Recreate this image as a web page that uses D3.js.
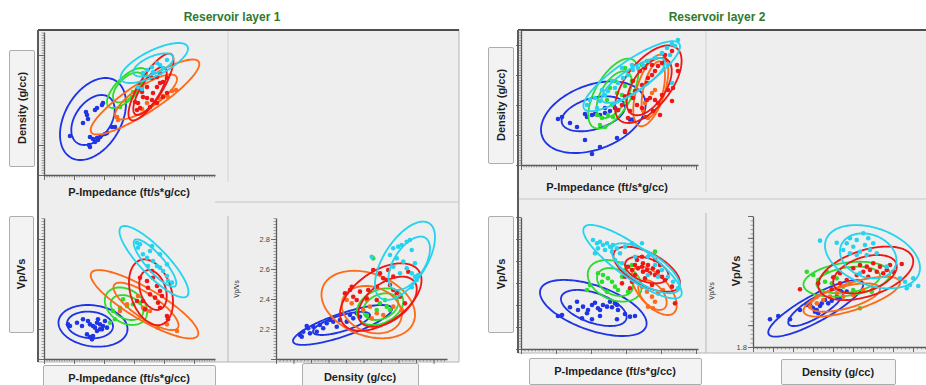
<!DOCTYPE html>
<html>
<head>
<meta charset="utf-8">
<script src="https://cdn.jsdelivr.net/npm/d3@7"></script>
<style>
  body { margin: 0; background: #fff; }
  svg { display: block; font-family: "Liberation Sans", Arial, sans-serif; }
</style>
</head>
<body>
<svg id="chart" width="926" height="385"></svg>
<script>
// facies classes, drawn in this order
const classOrder = ['blue', 'green', 'orange', 'red', 'cyan'];
const classColors = { blue: '#1e34e6', green: '#2cdc2c', orange: '#ff6a18', red: '#f01616', cyan: '#26d3ef' };

// axis domains
const ipDomain1 = [14000, 31100];
const rhoDomain1 = [1.9, 2.615];
const vpvsDomain1 = [2.0, 2.94];
const rhoDomain1b = [1.9, 2.584];
const ipDomain2 = [15000, 32700];
const rhoDomain2 = [1.95, 2.625];
const vpvsDomain2 = [1.8, 3.0];
const rhoDomain2b = [1.9, 2.648];
const vpvsLabels1 = [2.2, 2.4, 2.6, 2.8];
const vpvsLabels2 = [1.8];

// ellipses: [class, centreX, centreY, halfWidth, halfHeight, correlation]

// ---- Reservoir layer 1 : P-Impedance vs Density
const l1ImpDen = {
  blue: [[16600,2.095],[17900,2.16],[18300,2.2],[18400,2.18],[19100,2.225],[19300,2.235],[19800,2.25],[19900,2.26],[18600,2.09],[19300,2.085],[19100,2.065],[19400,2.075],[18500,2.05],[18600,2.04],[20300,2.11],[20800,2.14],[21100,2.14],[19600,2.09],[18900,2.08],[20100,2.105],[18200,2.215]],
  green: [[22900,2.315],[23300,2.33],[23600,2.36],[22800,2.29],[21600,2.24],[23800,2.34]],
  orange: [[21300,2.19],[21400,2.175],[23800,2.23],[26800,2.32],[27200,2.325],[25900,2.295],[25600,2.28],[26400,2.29],[24300,2.26]],
  red: [[23300,2.225],[23600,2.235],[23100,2.265],[23800,2.315],[23900,2.29],[24300,2.285],[24800,2.275],[24900,2.31],[25300,2.34],[25600,2.36],[25900,2.365],[26300,2.385],[25300,2.39],[25600,2.41],[24800,2.385],[24300,2.34],[23400,2.26],[24600,2.24],[25300,2.26],[25900,2.29],[26300,2.31]],
  cyan: [[24300,2.425],[24800,2.44],[25300,2.46],[25600,2.45],[26300,2.475],[23900,2.41],[23400,2.34],[24900,2.415],[25900,2.435],[23800,2.33]]
};
const l1ImpDenEllipses = [
  ['blue', 18900, 2.18, 3300, 0.205, 0.38], ['blue', 18900, 2.175, 2170, 0.125, 0.4],
  ['green', 22300, 2.335, 2000, 0.1, 0.7], ['green', 22400, 2.338, 1500, 0.075, 0.6],
  ['orange', 24100, 2.29, 5430, 0.1875, 0.88], ['orange', 24200, 2.29, 3100, 0.1125, 0.8],
  ['red', 24700, 2.34, 2250, 0.167, 0.8], ['red', 24600, 2.32, 1670, 0.12, 0.75],
  ['cyan', 25030, 2.46, 3370, 0.1, 0.72], ['cyan', 24930, 2.45, 2000, 0.058, 0.6]
];

// ---- Reservoir layer 1 : P-Impedance vs Vp/Vs
const l1ImpVpvs = {
  blue: [[16400,2.231],[16600,2.22],[17300,2.242],[17900,2.265],[18400,2.253],[18600,2.231],[18900,2.22],[19100,2.209],[19300,2.242],[19400,2.265],[19600,2.231],[19800,2.198],[18300,2.164],[18600,2.147],[18800,2.131],[18900,2.153],[19900,2.22],[20300,2.209],[17800,2.22],[19300,2.187],[19600,2.198],[20100,2.253]],
  green: [[20900,2.32],[21600,2.342],[22300,2.353],[22900,2.365],[23600,2.375],[21900,2.398],[21100,2.265],[20600,2.242]],
  orange: [[23900,2.342],[24600,2.32],[25400,2.209],[26300,2.231],[27300,2.187],[22300,2.365],[21600,2.32],[23400,2.42]],
  red: [[23600,2.542],[24300,2.52],[24800,2.587],[24900,2.542],[25300,2.487],[25600,2.453],[25100,2.409],[25400,2.375],[25600,2.342],[24600,2.431],[23900,2.387],[23300,2.387],[26300,2.287],[26400,2.265],[25800,2.42],[24400,2.475],[24100,2.331]],
  cyan: [[23300,2.775],[23400,2.742],[23900,2.698],[24300,2.675],[24600,2.72],[24900,2.653],[25300,2.62],[25600,2.609],[25900,2.587],[26300,2.553],[26400,2.52],[26800,2.509],[23600,2.765],[24800,2.753],[25600,2.698],[26300,2.631],[24400,2.62]]
};
const l1ImpVpvsEllipses = [
  ['blue', 18900, 2.221, 3450, 0.139, -0.15], ['blue', 18600, 2.227, 2300, 0.089, -0.1],
  ['green', 22200, 2.352, 2120, 0.125, -0.3], ['green', 22300, 2.343, 1630, 0.083, -0.3],
  ['orange', 24050, 2.365, 5380, 0.228, -0.85], ['orange', 24200, 2.351, 3250, 0.158, -0.8],
  ['red', 24700, 2.445, 2200, 0.219, -0.3], ['red', 24900, 2.46, 1370, 0.133, -0.3],
  ['cyan', 25000, 2.649, 3450, 0.238, -0.85], ['cyan', 25100, 2.64, 2130, 0.158, -0.85]
];

// ---- Reservoir layer 1 : Density vs Vp/Vs
const l1DenVpvs = {
  blue: [[1.996,2.16],[2.009,2.182],[2.029,2.205],[2.049,2.215],[2.076,2.227],[2.103,2.238],[2.129,2.249],[2.156,2.26],[2.183,2.249],[2.209,2.271],[2.236,2.282],[2.036,2.171],[2.063,2.182],[2.089,2.205],[2.143,2.215],[2.196,2.293],[2.223,2.305],[2.003,2.149],[2.023,2.22],[2.116,2.26]],
  green: [[2.289,2.671],[2.316,2.371],[2.343,2.349],[2.303,2.327],[2.356,2.327],[2.263,2.293],[2.336,2.393]],
  orange: [[2.183,2.393],[2.249,2.327],[2.276,2.349],[2.303,2.305],[2.329,2.293],[2.283,2.271],[2.369,2.349],[2.403,2.327],[2.203,2.371],[2.263,2.393]],
  red: [[2.176,2.438],[2.196,2.46],[2.209,2.415],[2.223,2.393],[2.236,2.449],[2.269,2.46],[2.303,2.482],[2.329,2.538],[2.343,2.527],[2.356,2.493],[2.369,2.46],[2.383,2.438],[2.289,2.593],[2.316,2.571],[2.349,2.593],[2.369,2.549],[2.396,2.415],[2.416,2.371],[2.429,2.582],[2.263,2.405],[2.303,2.393],[2.203,2.482]],
  cyan: [[2.283,2.682],[2.356,2.693],[2.369,2.738],[2.389,2.749],[2.403,2.76],[2.423,2.782],[2.436,2.793],[2.443,2.727],[2.409,2.649],[2.423,2.605],[2.443,2.571],[2.456,2.549],[2.469,2.56],[2.463,2.527],[2.443,2.478],[2.383,2.671],[2.369,2.615],[2.396,2.571],[2.456,2.638]]
};
const l1DenVpvsEllipses = [
  ['blue', 2.166, 2.227, 0.198, 0.133, 0.8], ['blue', 2.162, 2.237, 0.114, 0.077, 0.7],
  ['green', 2.316, 2.349, 0.093, 0.122, 0.3], ['green', 2.319, 2.349, 0.07, 0.089, 0.3],
  ['orange', 2.269, 2.363, 0.187, 0.225, -0.3], ['orange', 2.283, 2.329, 0.12, 0.158, -0.2],
  ['red', 2.319, 2.413, 0.163, 0.225, 0.5], ['red', 2.346, 2.382, 0.117, 0.167, 0.5],
  ['cyan', 2.416, 2.655, 0.12, 0.261, 0.6], ['cyan', 2.433, 2.638, 0.083, 0.178, 0.55]
];

// ---- Reservoir layer 2 : P-Impedance vs Density
const l2ImpDen = {
  blue: [[18700,2.18],[19100,2.19],[19900,2.16],[20600,2.14],[21400,2.205],[21600,2.19],[22100,2.2],[22400,2.205],[22900,2.2],[23400,2.21],[23900,2.22],[24400,2.235],[24700,2.225],[21400,2.075],[22900,2.04],[22100,2.005],[24600,2.085],[25400,2.115],[25900,2.177],[26200,2.177],[27400,2.19],[23400,2.235]],
  green: [[22600,2.2],[23100,2.185],[23700,2.2],[24200,2.19],[22900,2.15],[23400,2.14],[24100,2.25],[25100,2.3],[24600,2.31],[25400,2.345],[26100,2.37],[24400,2.37],[23900,2.335],[23600,2.275],[25400,2.435],[27100,2.45],[27600,2.47]],
  orange: [[27200,2.225],[27700,2.185],[28400,2.325],[28100,2.31],[27400,2.26]],
  red: [[25400,2.294],[25900,2.3],[26400,2.32],[27100,2.35],[27600,2.36],[27700,2.385],[28100,2.4],[28400,2.42],[28700,2.445],[29100,2.46],[29400,2.475],[27600,2.275],[27900,2.285],[28400,2.275],[28700,2.26],[29100,2.3],[29700,2.325],[30200,2.335],[30700,2.42],[30600,2.45],[30100,2.52],[29400,2.5],[25900,2.22],[25700,2.185],[25400,2.12],[24700,2.225],[26600,2.25],[27100,2.235],[28200,2.22],[28900,2.2],[26900,2.42],[27400,2.435],[28100,2.45],[26200,2.37],[25100,2.25],[26200,2.285],[30100,2.27]],
  cyan: [[21600,2.25],[21900,2.275],[22400,2.285],[22900,2.27],[23400,2.3],[23700,2.32],[24400,2.335],[24700,2.36],[25200,2.385],[25700,2.4],[26200,2.425],[26700,2.435],[27200,2.45],[27700,2.47],[28400,2.485],[29100,2.51],[29600,2.535],[30100,2.555],[30700,2.575],[30400,2.545],[29900,2.5],[22600,2.235],[23100,2.325],[24100,2.37],[25100,2.435],[26100,2.45],[29700,2.45],[30100,2.36]]
};
const l2ImpDenEllipses = [
  ['blue', 22230, 2.189, 5230, 0.179, 0.35], ['blue', 22230, 2.206, 3170, 0.0875, 0.4],
  ['green', 24230, 2.307, 2500, 0.175, 0.6], ['green', 24320, 2.302, 1750, 0.117, 0.55],
  ['orange', 27980, 2.3225, 1750, 0.179, 0.55], ['orange', 28230, 2.3265, 1170, 0.1415, 0.5],
  ['red', 27730, 2.354, 3330, 0.194, 0.6], ['red', 27820, 2.342, 2250, 0.1435, 0.55],
  ['cyan', 26070, 2.394, 4830, 0.175, 0.85], ['cyan', 26230, 2.373, 3170, 0.1125, 0.8]
];

// ---- Reservoir layer 2 : P-Impedance vs Vp/Vs
const l2ImpVpvs = {
  blue: [[18700,2.1],[19100,2.109],[19900,2.179],[20600,2.23],[20700,2.155],[21200,2.185],[21600,2.125],[21700,2.155],[22100,2.2],[22400,2.221],[22700,2.17],[22900,2.155],[23200,2.2],[23600,2.185],[23900,2.23],[24100,2.179],[24400,2.215],[24600,2.2],[22100,2.07],[22900,2.1],[24600,2.07],[25400,2.118],[25900,2.094],[26400,2.1],[24700,2.155],[21100,2.079]],
  green: [[21600,2.336],[21900,2.382],[22700,2.488],[23200,2.473],[23700,2.443],[24100,2.412],[24400,2.367],[24700,2.336],[23600,2.321],[25100,2.457],[25400,2.518],[26100,2.564],[28400,2.685],[23100,2.412],[25700,2.321]],
  orange: [[27100,2.367],[27600,2.321],[28100,2.276],[28400,2.23],[27700,2.185],[28700,2.306],[29200,2.336],[28200,2.17]],
  red: [[25700,2.548],[26100,2.518],[26400,2.564],[26700,2.533],[27100,2.548],[27200,2.503],[27600,2.518],[27700,2.564],[27900,2.488],[28200,2.533],[28400,2.473],[28700,2.503],[29100,2.457],[29400,2.427],[26600,2.609],[27100,2.639],[27700,2.639],[28400,2.609],[25400,2.457],[25100,2.397],[26100,2.412],[27400,2.443],[26400,2.473],[30100,2.367],[30400,2.215],[28100,2.382],[25900,2.352],[27200,2.579],[28900,2.564]],
  cyan: [[22200,2.791],[22600,2.761],[22900,2.775],[23200,2.745],[23600,2.761],[23900,2.73],[24200,2.745],[24600,2.715],[22700,2.715],[23400,2.7],[24100,2.685],[24900,2.67],[25400,2.73],[26100,2.761],[27100,2.761],[27700,2.639],[28400,2.564],[29100,2.518],[29700,2.457],[30200,2.412],[30700,2.352],[24400,2.609],[25100,2.579],[26400,2.639],[28700,2.457],[27700,2.473],[22400,2.67]]
};
const l2ImpVpvsEllipses = [
  ['blue', 22230, 2.173, 5330, 0.255, -0.55], ['blue', 22280, 2.173, 3280, 0.164, -0.5],
  ['green', 24370, 2.42, 2700, 0.189, -0.3], ['green', 24400, 2.409, 1800, 0.127, -0.3],
  ['orange', 28320, 2.329, 2250, 0.22, -0.6], ['orange', 28150, 2.291, 1420, 0.136, -0.5],
  ['red', 27570, 2.525, 3330, 0.205, -0.6], ['red', 27570, 2.518, 2170, 0.121, -0.4],
  ['cyan', 26150, 2.594, 4920, 0.334, -0.85], ['cyan', 27480, 2.534, 3420, 0.227, -0.7]
];

// ---- Reservoir layer 2 : Density vs Vp/Vs
const l2DenVpvs = {
  blue: [[1.968,2.054],[2.001,2.084],[2.048,2.054],[2.088,2.139],[2.115,2.185],[2.135,2.164],[2.148,2.123],[2.155,2.139],[2.168,2.176],[2.175,2.2],[2.188,2.231],[2.201,2.2],[2.215,2.224],[2.235,2.261],[2.248,2.246],[2.275,2.307],[2.141,2.154],[2.161,2.109],[2.128,2.194]],
  green: [[2.115,2.49],[2.141,2.46],[2.161,2.414],[2.188,2.398],[2.215,2.383],[2.235,2.429],[2.261,2.352],[2.288,2.383],[2.328,2.154],[2.375,2.307],[2.301,2.322],[2.195,2.49]],
  orange: [[2.128,2.169],[2.155,2.2],[2.181,2.231],[2.208,2.261],[2.235,2.292],[2.261,2.261],[2.301,2.276],[2.341,2.322],[2.381,2.338],[2.155,2.261]],
  red: [[2.088,2.329],[2.161,2.383],[2.221,2.438],[2.248,2.475],[2.275,2.414],[2.301,2.521],[2.328,2.551],[2.341,2.49],[2.355,2.536],[2.368,2.505],[2.381,2.567],[2.395,2.49],[2.408,2.536],[2.421,2.475],[2.435,2.505],[2.448,2.551],[2.461,2.49],[2.495,2.56],[2.361,2.444],[2.315,2.46],[2.215,2.329],[2.248,2.383]],
  cyan: [[2.168,2.774],[2.235,2.755],[2.261,2.689],[2.275,2.75],[2.288,2.796],[2.301,2.719],[2.315,2.78],[2.328,2.673],[2.341,2.842],[2.348,2.734],[2.361,2.796],[2.368,2.689],[2.381,2.75],[2.288,2.658],[2.315,2.643],[2.355,2.643],[2.395,2.658],[2.488,2.429],[2.508,2.398],[2.528,2.368],[2.541,2.429],[2.561,2.359],[2.515,2.338],[2.435,2.536],[2.328,2.475]]
};
const l2DenVpvsEllipses = [
  ['blue', 2.151, 2.154, 0.19, 0.259, 0.85], ['blue', 2.151, 2.16, 0.11, 0.168, 0.8],
  ['green', 2.275, 2.421, 0.173, 0.16, 0.3], ['green', 2.281, 2.414, 0.127, 0.122, 0.3],
  ['orange', 2.295, 2.261, 0.193, 0.183, 0.7], ['orange', 2.268, 2.253, 0.14, 0.13, 0.6],
  ['red', 2.351, 2.475, 0.19, 0.245, 0.45], ['red', 2.348, 2.467, 0.127, 0.176, 0.4],
  ['cyan', 2.378, 2.627, 0.19, 0.29, -0.35], ['cyan', 2.361, 2.635, 0.113, 0.206, -0.2]
];

// ---------------------------------------------------------------
const svg = d3.select('#chart');
const FONT_BOLD = 'bold';

function stepTicks(domain, step) {
  const n = Math.floor((domain[1] - domain[0]) / step + 1e-6);
  return d3.range(n + 1).map(i => domain[0] + i * step);
}

function drawAxis(g, scale, orient, spec) {
  const make = orient === 'left' ? d3.axisLeft : d3.axisBottom;
  const minor = g.append('g').call(make(scale)
    .tickValues(stepTicks(scale.domain(), spec.minor))
    .tickSize(2.5).tickSizeOuter(0).tickFormat(''));
  const labels = spec.labels || [];
  const major = g.append('g').call(make(scale)
    .tickValues(stepTicks(scale.domain(), spec.major))
    .tickSize(5).tickSizeOuter(0).tickPadding(1)
    .tickFormat(d => labels.some(v => Math.abs(v - d) < 1e-6) ? d3.format('.1f')(d) : ''));
  minor.selectAll('.tick line').attr('stroke', '#8a8a8a').attr('stroke-width', 0.8);
  major.selectAll('.tick line').attr('stroke', '#5e5e5e').attr('stroke-width', 0.9);
  major.select('.domain').attr('stroke', '#5a5a5a').attr('stroke-width', 1.3);
  major.selectAll('.tick text').attr('fill', '#444').attr('font-size', 7.5)
    .attr('font-family', '"Liberation Sans", Arial, sans-serif');
  minor.select('.domain').remove();
}

function ellipsePath(e, x, y) {
  const [, cx, cy, hx, hy, r] = e;
  const s = Math.sqrt(1 - r * r);
  const pts = d3.range(0, 2 * Math.PI, Math.PI / 72).map(t => [
    x(cx + hx * Math.cos(t)),
    y(cy + hy * (r * Math.cos(t) + s * Math.sin(t)))
  ]);
  return d3.line().curve(d3.curveLinearClosed)(pts);
}

function drawCrossplot(p) {
  const x = d3.scaleLinear().domain(p.xDomain).range(p.xRange);
  const y = d3.scaleLinear().domain(p.yDomain).range(p.yRange);
  const g = svg.append('g');

  drawAxis(g.append('g').attr('transform', `translate(0,${p.yRange[0]})`), x, 'bottom', p.xTicks);
  drawAxis(g.append('g').attr('transform', `translate(${p.xRange[0]},0)`), y, 'left', p.yTicks);

  classOrder.forEach(c => {
    g.append('g').selectAll('path')
      .data(p.ellipses.filter(e => e[0] === c))
      .join('path')
      .attr('d', e => ellipsePath(e, x, y))
      .attr('fill', 'none')
      .attr('stroke', classColors[c])
      .attr('stroke-width', 1.85);
    g.append('g').selectAll('circle')
      .data(p.points[c])
      .join('circle')
      .attr('cx', d => x(d[0]))
      .attr('cy', d => y(d[1]))
      .attr('r', 2.3)
      .attr('fill', classColors[c]);
  });
}

function labelBox(x, y, w, h, text, vertical, size) {
  const g = svg.append('g');
  g.append('rect').attr('x', x + 0.5).attr('y', y + 0.5).attr('width', w).attr('height', h)
    .attr('fill', '#f3f3f3').attr('stroke', '#adadad').attr('rx', 1.5);
  const t = g.append('text')
    .attr('text-anchor', 'middle').attr('dominant-baseline', 'central')
    .attr('font-weight', FONT_BOLD).attr('font-size', size || 11).attr('fill', '#1e1e1e')
    .text(text);
  const cx = x + w / 2, cy = y + h / 2;
  if (vertical) t.attr('transform', `translate(${cx},${cy}) rotate(-90)`);
  else t.attr('x', cx).attr('y', cy);
}

function plainLabel(x, y, text, size, weight, vertical) {
  const t = svg.append('text')
    .attr('text-anchor', 'middle').attr('dominant-baseline', 'central')
    .attr('font-size', size).attr('font-weight', weight).attr('fill', '#1e1e1e')
    .text(text);
  if (vertical) t.attr('transform', `translate(${x},${y}) rotate(-90)`);
  else t.attr('x', x).attr('y', y);
}

function drawFrame(f) {
  const [x0, y0, x1, y1] = f.box;
  svg.append('rect').attr('x', x0).attr('y', y0).attr('width', x1 - x0).attr('height', y1 - y0)
    .attr('fill', '#eeeeee');
  const line = (a, b, c, d, col, w) => svg.append('line')
    .attr('x1', a).attr('y1', b).attr('x2', c).attr('y2', d)
    .attr('stroke', col).attr('stroke-width', w);
  line(x1, y0, x1, y1, '#b4b4b4', 1);
  line(x0, y1, x1, y1, '#b4b4b4', 1);
  line(f.sepX0, f.sepY, x1, f.sepY, '#c6c6c6', 1);
  line(f.divX, y0, f.divX, f.divTopEnd, '#d2d2d2', 1);
  line(f.divX, f.sepY + 14, f.divX, y1, '#b8b8b8', 1);
  line(x0, y0, x1, y0, '#4e4e4e', 2);
  line(x0, y0, x0, y1, '#5a5a5a', 2);

  svg.append('text').attr('x', f.titleX).attr('y', 17)
    .attr('text-anchor', 'middle').attr('dominant-baseline', 'central')
    .attr('font-size', 12).attr('font-weight', FONT_BOLD).attr('fill', '#2f7a2c')
    .text(f.title);
}

// ---- layer 1
drawFrame({ title: 'Reservoir layer 1', titleX: 232, box: [38, 30, 459, 362], sepX0: 215, sepY: 202, divX: 228, divTopEnd: 182 });
drawCrossplot({ points: l1ImpDen, ellipses: l1ImpDenEllipses,
  xDomain: ipDomain1, xRange: [44, 215], yDomain: rhoDomain1, yRange: [175, 32],
  xTicks: { major: 3000, minor: 250 }, yTicks: { major: 0.15, minor: 0.0125 } });
drawCrossplot({ points: l1ImpVpvs, ellipses: l1ImpVpvsEllipses,
  xDomain: ipDomain1, xRange: [44, 215], yDomain: vpvsDomain1, yRange: [359, 218],
  xTicks: { major: 3000, minor: 250 }, yTicks: { major: 0.2, minor: 0.02 } });
drawCrossplot({ points: l1DenVpvs, ellipses: l1DenVpvsEllipses,
  xDomain: rhoDomain1b, xRange: [276, 447], yDomain: vpvsDomain1, yRange: [359, 218],
  xTicks: { major: 0.07, minor: 0.014 }, yTicks: { major: 0.2, minor: 0.02, labels: vpvsLabels1 } });

labelBox(9, 50, 25, 116, 'Density (g/cc)', true);
labelBox(9, 216, 24, 116, 'Vp/Vs', true);
plainLabel(129, 192, 'P-Impedance (ft/s*g/cc)', 11, FONT_BOLD);
labelBox(43, 365, 172, 26, 'P-Impedance (ft/s*g/cc)', false);
labelBox(302, 363, 116, 28, 'Density (g/cc)', false);
plainLabel(236, 289, 'Vp/Vs', 6.5, 'normal', true);

// ---- layer 2
drawFrame({ title: 'Reservoir layer 2', titleX: 717, box: [518, 30, 940, 353], sepX0: 518, sepY: 199, divX: 706, divTopEnd: 192 });
drawCrossplot({ points: l2ImpDen, ellipses: l2ImpDenEllipses,
  xDomain: ipDomain2, xRange: [521, 698], yDomain: rhoDomain2, yRange: [165, 30],
  xTicks: { major: 3500, minor: 250 }, yTicks: { major: 0.15, minor: 0.0125 } });
drawCrossplot({ points: l2ImpVpvs, ellipses: l2ImpVpvsEllipses,
  xDomain: ipDomain2, xRange: [521, 698], yDomain: vpvsDomain2, yRange: [349, 217],
  xTicks: { major: 3500, minor: 350 }, yTicks: { major: 0.2, minor: 0.025 } });
drawCrossplot({ points: l2DenVpvs, ellipses: l2DenVpvsEllipses,
  xDomain: rhoDomain2b, xRange: [753, 940], yDomain: vpvsDomain2, yRange: [347, 216],
  xTicks: { major: 0.08, minor: 0.016 }, yTicks: { major: 0.2, minor: 0.04, labels: vpvsLabels2 } });

labelBox(488, 47, 25, 116, 'Density (g/cc)', true);
labelBox(488, 216, 25, 116, 'Vp/Vs', true);
plainLabel(607, 187, 'P-Impedance (ft/s*g/cc)', 11, FONT_BOLD);
labelBox(529, 358, 172, 26, 'P-Impedance (ft/s*g/cc)', false);
labelBox(781, 359, 114, 25, 'Density (g/cc)', false);
plainLabel(711, 291, 'Vp/Vs', 6.5, 'normal', true);
plainLabel(736, 271, 'Vp/Vs', 11, FONT_BOLD, true);
</script>
</body>
</html>
